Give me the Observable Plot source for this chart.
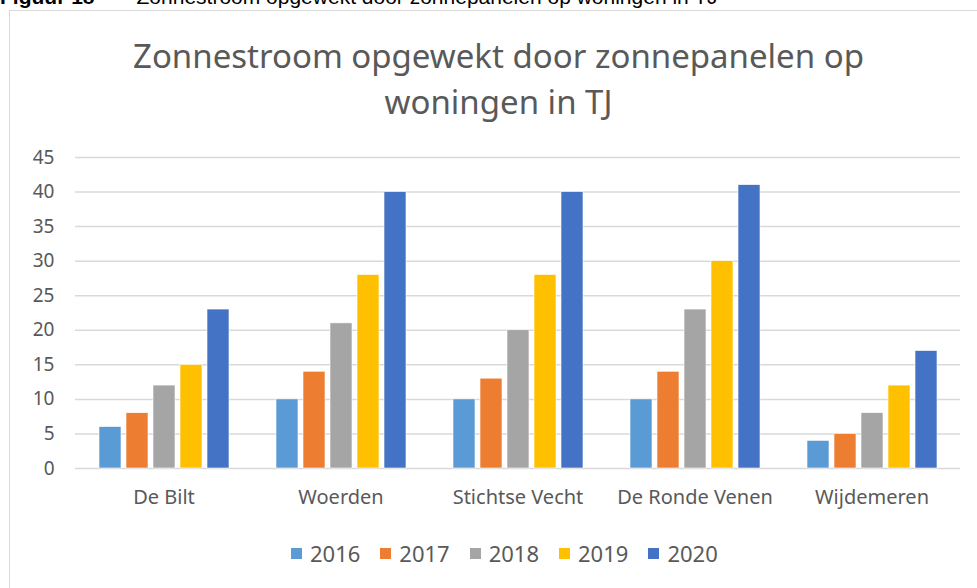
<!DOCTYPE html>
<html>
<head>
<meta charset="utf-8">
<script src="https://cdn.jsdelivr.net/npm/d3@7"></script>
<script src="https://cdn.jsdelivr.net/npm/@observablehq/plot@0.6"></script>
<style>
  body { margin: 0; background: #fff; width: 977px; height: 588px; overflow: hidden; position: relative; font-family: "Noto Sans", "Open Sans", sans-serif; }
  #frame { position: absolute; left: 9px; top: 10px; width: 990px; height: 600px; border: 1.5px solid #d9d9d9; box-sizing: border-box; }
  #fig { position: absolute; left: 0; top: -15px; font-family: "Liberation Sans", Arial, sans-serif; font-size: 21px; line-height: 24px; color: #000; white-space: nowrap; }
  #fig b { margin-right: 42px; }
  #title { position: absolute; left: 0; top: 33px; width: 997px; text-align: center; font-size: 33px; line-height: 46px; color: #595959; }
  #chart { position: absolute; left: 0; top: 0; }
  #legend { position: absolute; left: 291px; top: 538px; display: flex; gap: 0; font-size: 22px; color: #595959; }
  .item { display: flex; align-items: center; margin-right: 20px; }
  .sw { width: 11px; height: 11px; margin-right: 8px; }
</style>
</head>
<body>
<div id="frame"></div>
<div id="fig"><b>Figuur 18</b>Zonnestroom opgewekt door zonnepanelen op woningen in TJ</div>
<div id="title">Zonnestroom opgewekt door zonnepanelen op<br>woningen in TJ</div>
<div id="chart"></div>
<div id="legend"></div>
<script>
const gemeenten = ["De Bilt", "Woerden", "Stichtse Vecht", "De Ronde Venen", "Wijdemeren"];
const years = ["2016", "2017", "2018", "2019", "2020"];
const colors = ["#5B9BD5", "#ED7D31", "#A5A5A5", "#FFC000", "#4472C4"];
const v2016 = [6, 10, 10, 10, 4];
const v2017 = [8, 14, 13, 14, 5];
const v2018 = [12, 21, 20, 23, 8];
const v2019 = [15, 28, 28, 30, 12];
const v2020 = [23, 40, 40, 41, 17];
const yTicks = [0, 5, 10, 15, 20, 25, 30, 35, 40, 45];

const series = [v2016, v2017, v2018, v2019, v2020];
const data = [];
gemeenten.forEach((g, i) => years.forEach((y, j) => data.push({gemeente: g, year: y, value: series[j][i]})));

const plot = Plot.plot({
  width: 977,
  height: 588,
  marginTop: 157,
  marginBottom: 120,
  marginLeft: 74,
  marginRight: 17,
  style: {fontFamily: '"Noto Sans", "Open Sans", sans-serif', background: "transparent"},
  fx: {domain: gemeenten, padding: 0, axis: null},
  x: {domain: years, paddingInner: 0.2, paddingOuter: 0.85, axis: null},
  y: {domain: [0, 45], axis: null},
  color: {domain: years, range: colors},
  marks: [
    Plot.ruleY(yTicks, {stroke: "#d9d9d9", strokeWidth: 1.5}),
    Plot.barY(data, {fx: "gemeente", x: "year", y: "value", fill: "year", stroke: "white", strokeWidth: 0.6}),
    Plot.axisY({ticks: yTicks, tickSize: 0, tickPadding: 21, fontSize: 19, color: "#595959", label: null, tickFormat: d => String(d)}),
    Plot.axisFx({anchor: "bottom", tickSize: 0, tickPadding: 21, fontSize: 20, color: "#595959", label: null})
  ]
});
document.getElementById("chart").appendChild(plot);

const legend = document.getElementById("legend");
years.forEach((y, i) => {
  const it = document.createElement("div");
  it.className = "item";
  const sw = document.createElement("div");
  sw.className = "sw";
  sw.style.background = colors[i];
  const t = document.createElement("span");
  t.textContent = y;
  it.appendChild(sw); it.appendChild(t);
  legend.appendChild(it);
});
</script>
</body>
</html>
